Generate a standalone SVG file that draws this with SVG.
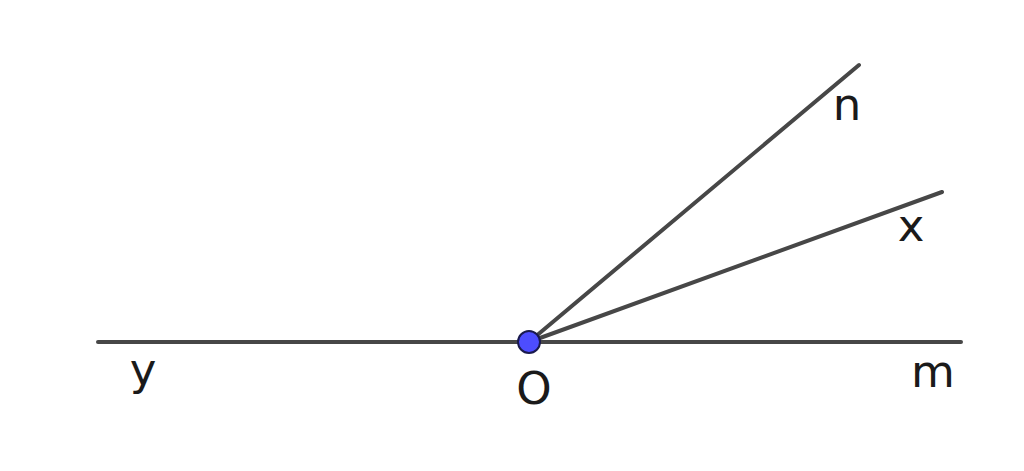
<svg xmlns="http://www.w3.org/2000/svg" width="1024" height="471" viewBox="0 0 1024 471">
<style>
.ln{stroke:#474747;stroke-width:4;stroke-linecap:round;fill:none}
.lb{font-family:"DejaVu Sans",sans-serif;font-size:45px;fill:#1a1a1a;text-anchor:middle}
</style>
<rect width="1024" height="471" fill="#ffffff"/>
<g id="connectors">
<line class="ln" x1="98" y1="342" x2="961" y2="342"/>
<line class="ln" x1="529" y1="342" x2="859" y2="65"/>
<line class="ln" x1="529" y1="342" x2="942" y2="192"/>
</g>
<g id="O">
<circle cx="529" cy="342" r="11" fill="#4d4dff" stroke="#1a1a4d" stroke-width="2"/>
<text class="lb" x="534" y="404">O</text>
</g>
<g id="n"><text class="lb" x="847" y="120">n</text></g>
<g id="x"><text class="lb" x="911" y="241">x</text></g>
<g id="y"><text class="lb" x="143" y="385">y</text></g>
<g id="m"><text class="lb" x="933" y="387">m</text></g>
</svg>
